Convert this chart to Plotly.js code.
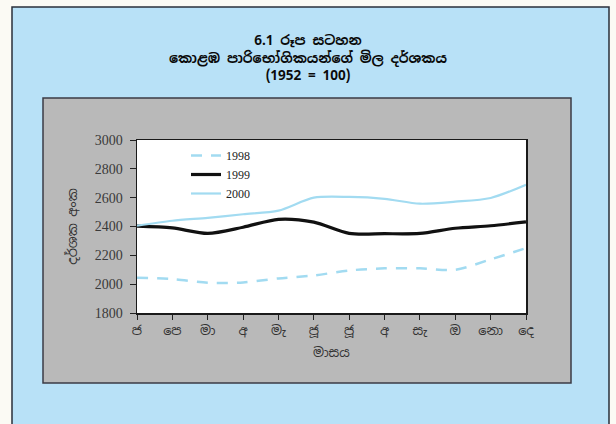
<!DOCTYPE html>
<html>
<head>
<meta charset="utf-8">
<script src="https://cdn.plot.ly/plotly-3.0.1.min.js"></script>
<style>
  html, body { margin: 0; padding: 0; background: #fbfaf4; }
  #chart { width: 616px; height: 424px; }
</style>
</head>
<body>
<div id="chart"></div>
<script>
// ---- data ----
const monthIndex = [0, 1, 2, 3, 4, 5, 6, 7, 8, 9, 10, 11];
const monthLabels = ["ජ", "පෙ", "මා", "අ", "මැ", "ජූ", "ජූ", "අ", "සැ", "ඔ", "නො", "දෙ"];
const seriesNames = ["1998", "1999", "2000"];
const values1998 = [2045, 2035, 2010, 2012, 2040, 2060, 2095, 2110, 2110, 2100, 2172, 2250];
const values1999 = [2402, 2390, 2352, 2395, 2450, 2430, 2352, 2350, 2352, 2388, 2405, 2432];
const values2000 = [2405, 2440, 2460, 2485, 2510, 2600, 2605, 2592, 2558, 2572, 2598, 2690];
const yTicks = [1800, 2000, 2200, 2400, 2600, 2800, 3000];

// ---- layout helpers ----
const W = 616, H = 424;
const M = { l: 137, r: 90, t: 140, b: 111 };
const pw = W - M.l - M.r, ph = H - M.t - M.b;
const px = x => (x - M.l) / pw;
const py = y => (H - M.b - y) / ph;

const sinhala = "'Noto Sans Sinhala', 'Noto Serif Sinhala', 'Iskoola Pota', 'Noto Sans', sans-serif";
const serif = "'Liberation Serif', 'DejaVu Serif', serif";
const lightBlue = '#a2dbf1';

const traces = [
  { x: monthIndex, y: values1998, name: seriesNames[0], type: 'scatter', mode: 'lines',
    line: { color: lightBlue, width: 2.5, dash: '11px,9px', shape: 'spline', smoothing: 0.8 } },
  { x: monthIndex, y: values1999, name: seriesNames[1], type: 'scatter', mode: 'lines',
    line: { color: '#111111', width: 3.2, shape: 'spline', smoothing: 0.8 } },
  { x: monthIndex, y: values2000, name: seriesNames[2], type: 'scatter', mode: 'lines',
    line: { color: lightBlue, width: 2.2, shape: 'spline', smoothing: 0.8 } }
];

const layout = {
  width: W, height: H,
  margin: M,
  paper_bgcolor: '#fbfaf4',
  plot_bgcolor: '#ffffff',
  showlegend: true,
  title: {
    text: '<b>6.1 රූප සටහන<br>කොළඹ පාරිභෝගිකයන්ගේ මිල දර්ශකය<br>(1952 = 100)</b>',
    font: { family: sinhala, size: 13.5, color: '#0a0a0a' },
    xref: 'container', x: 0.5, xanchor: 'center',
    yref: 'container', y: 1 - 45 / H, yanchor: 'top'
  },
  xaxis: {
    range: [0, 11],
    tickmode: 'array', tickvals: monthIndex, ticktext: monthLabels,
    ticks: 'outside', ticklen: 5, tickcolor: '#222', tickwidth: 1,
    showline: true, linecolor: '#1a1a1a', linewidth: 1.5, mirror: true,
    showgrid: false, zeroline: false,
    tickfont: { family: sinhala, size: 13, color: '#333' },
    title: { text: 'මාසය', font: { family: sinhala, size: 13, color: '#333' }, standoff: 10 },
    fixedrange: true
  },
  yaxis: {
    range: [1800, 3000],
    tickmode: 'array', tickvals: yTicks,
    ticks: 'outside', ticklen: 6, tickcolor: '#222', tickwidth: 1,
    ticklabelstandoff: 4,
    showline: true, linecolor: '#1a1a1a', linewidth: 1.5, mirror: true,
    showgrid: false, zeroline: false,
    tickfont: { family: serif, size: 14, color: '#3a3a3a' },
    title: { text: 'දර්ශක අංක', font: { family: sinhala, size: 13, color: '#333' }, standoff: 14 },
    fixedrange: true
  },
  legend: {
    x: px(186), y: py(141), xanchor: 'left', yanchor: 'top',
    bgcolor: 'rgba(0,0,0,0)', borderwidth: 0,
    font: { family: serif, size: 12, color: '#222' },
    tracegroupgap: 0, itemwidth: 30
  },
  shapes: [
    // light blue framed box
    { type: 'rect', xref: 'paper', yref: 'paper', layer: 'below',
      x0: px(12), x1: px(609), y0: py(440), y1: py(7),
      fillcolor: '#b8e1f7', line: { color: '#2a2f3a', width: 1.5 } },
    // gray chart panel
    { type: 'rect', xref: 'paper', yref: 'paper', layer: 'below',
      x0: px(43), x1: px(571), y0: py(383), y1: py(98),
      fillcolor: '#b9b9b9', line: { color: '#3b3b45', width: 1.5 } },
    // white plotting area
    { type: 'rect', xref: 'x domain', yref: 'y domain', layer: 'below',
      x0: 0, x1: 1, y0: 0, y1: 1,
      fillcolor: '#ffffff', line: { width: 0 } }
  ]
};

Plotly.newPlot('chart', traces, layout, { displayModeBar: false, staticPlot: true });
</script>
</body>
</html>
